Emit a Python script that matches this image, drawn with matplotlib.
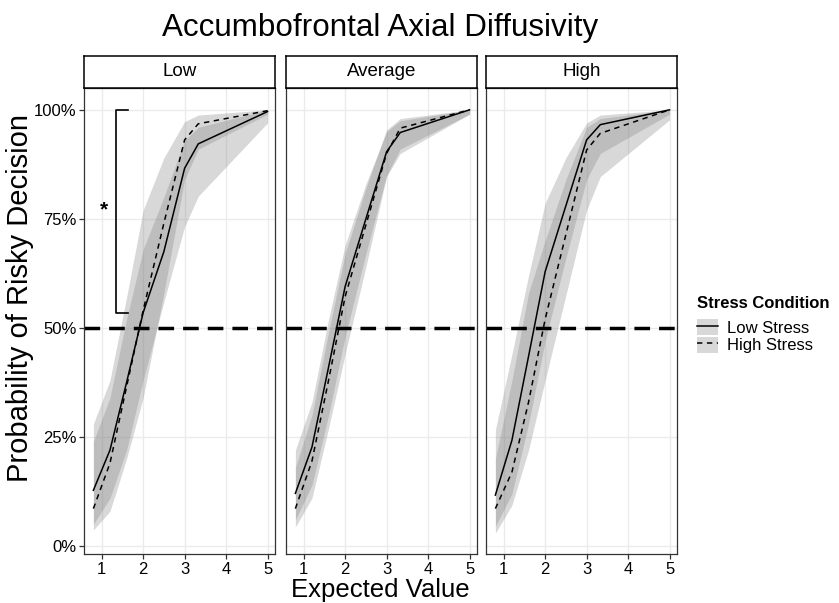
import matplotlib
matplotlib.use("Agg")
import matplotlib.pyplot as plt
from matplotlib.patches import Patch
from matplotlib.lines import Line2D

plt.rcParams['font.family'] = ['Liberation Sans', 'DejaVu Sans']

# expected value grid used for the predicted curves
ev = [0.8, 1.2, 1.6, 2.0, 2.5, 3.0, 3.33, 5.0]
panels = ['Low', 'Average', 'High']

# predicted probability (%) per panel, low stress / high stress, with ribbon bounds
low_ls = [12.8, 22, 37.5, 53.5, 67.5, 86.6, 92.2, 99.6]
low_ls_lo = [5, 11, 22, 38, 56, 73.2, 80.2, 97]
low_ls_hi = [24, 34, 52, 68, 80, 93, 96, 100]
low_hs = [8.6, 19, 36.5, 54, 74, 93.1, 96.8, 99.8]
low_hs_lo = [3.7, 8, 20, 34, 58, 84, 91, 99]
low_hs_hi = [28, 38, 57, 77, 89, 97.3, 98.8, 100]

avg_ls = [12.1, 22.7, 41, 59.5, 75, 90.4, 94.8, 100]
avg_ls_lo = [6, 14, 30, 48, 67, 85, 91, 99]
avg_ls_hi = [22, 33, 52, 69, 83, 95, 97.5, 100]
avg_hs = [8.6, 19.5, 38, 57.2, 73.6, 90, 95.8, 100]
avg_hs_lo = [4.4, 11, 27, 44, 64, 84.7, 90, 99]
avg_hs_hi = [18, 30, 49, 67, 82, 95.4, 98, 100]

high_ls = [11.7, 24.3, 43.5, 62.9, 78, 93.1, 96.6, 100]
high_ls_lo = [4.5, 12, 28, 47, 66, 84, 90, 99]
high_ls_hi = [26.6, 44, 62, 78.6, 89, 97, 98.8, 100]
high_hs = [8.6, 17, 33, 52, 71.4, 90.8, 94.6, 100]
high_hs_lo = [3, 9.4, 22, 38, 57.5, 77, 84.7, 97.7]
high_hs_hi = [20, 38, 58, 70, 84, 96, 98, 100]

ls_data = [(low_ls, low_ls_lo, low_ls_hi), (avg_ls, avg_ls_lo, avg_ls_hi), (high_ls, high_ls_lo, high_ls_hi)]
hs_data = [(low_hs, low_hs_lo, low_hs_hi), (avg_hs, avg_hs_lo, avg_hs_hi), (high_hs, high_hs_lo, high_hs_hi)]

# significance bracket in the Low panel
bracket_x = [1.63, 1.34, 1.34, 1.63]
bracket_y = [100, 100, 53.4, 53.4]
star_x, star_y = 1.06, 77

W, H = 839, 603
fig = plt.figure(figsize=(W / 100, H / 100), dpi=100)
fig.patch.set_facecolor('white')

lefts = [84, 286, 486]
pw = 191
top, bottom = 88, 554
strip_top = 56

dark = '#333333'
for i, name in enumerate(panels):
    ax = fig.add_axes([lefts[i] / W, 1 - bottom / H, pw / W, (bottom - top) / H])
    ax.set_facecolor('white')
    ax.set_xlim(0.574, 5.18)
    ax.set_ylim(-1.8, 105)
    ax.set_xticks([1, 2, 3, 4, 5])
    ax.set_yticks([0, 25, 50, 75, 100])
    ax.grid(True, color='#ebebeb', lw=1.0)
    ax.set_axisbelow(True)
    for s in ax.spines.values():
        s.set_color(dark)
        s.set_linewidth(0.9)
    ax.tick_params(axis='x', length=3.5, width=0.9, color=dark, labelsize=12, labelcolor='black', pad=2)
    if i == 0:
        ax.set_yticklabels(['0%', '25%', '50%', '75%', '100%'])
        ax.tick_params(axis='y', length=3.5, width=0.9, color=dark, labelsize=12, labelcolor='black', pad=2)
    else:
        ax.tick_params(axis='y', length=0, labelleft=False)

    m, lo, hi = ls_data[i]
    ax.fill_between(ev, lo, hi, color='grey', alpha=0.3, lw=0)
    m2, lo2, hi2 = hs_data[i]
    ax.fill_between(ev, lo2, hi2, color='grey', alpha=0.3, lw=0)
    ax.plot(ev, m, color='black', lw=1.1)
    ax.plot(ev, m2, color='black', lw=1.1, linestyle=(0, (3.5, 3)))
    ax.axhline(50, color='black', lw=2.5, linestyle=(0, (4.5, 2.6)))

    if i == 0:
        ax.plot(bracket_x, bracket_y, color='black', lw=1.2)
        ax.text(star_x, star_y, '*', fontsize=15, fontweight='bold', ha='center', va='center')

    # facet strip
    sax = fig.add_axes([lefts[i] / W, 1 - top / H, pw / W, (top - strip_top) / H])
    sax.set_xticks([])
    sax.set_yticks([])
    sax.set_facecolor('white')
    for s in sax.spines.values():
        s.set_color('black')
        s.set_linewidth(1.1)
    sax.text(0.5, 0.5, name, fontsize=13.5, ha='center', va='center', transform=sax.transAxes)

fig.text(380 / W, 1 - 28 / H, 'Accumbofrontal Axial Diffusivity', fontsize=22.6, ha='center', va='center')
fig.text(380 / W, 1 - 590 / H, 'Expected Value', fontsize=18.5, ha='center', va='center')
fig.text(20 / W, 1 - 298 / H, 'Probability of Risky Decision', fontsize=21, ha='center', va='center', rotation=90)

handles = [
    (Patch(facecolor='grey', alpha=0.3, lw=0), Line2D([], [], color='black', lw=1.1)),
    (Patch(facecolor='grey', alpha=0.3, lw=0), Line2D([], [], color='black', lw=1.1, linestyle=(0, (3.5, 3)))),
]
leg = fig.legend(handles, ['Low Stress', 'High Stress'], title='Stress Condition',
                 loc='upper left', bbox_to_anchor=(685 / W, 1 - 284 / H), frameon=False,
                 fontsize=12, title_fontproperties={'weight': 'bold', 'size': 12},
                 handlelength=1.3, handleheight=1.1, handletextpad=0.5, labelspacing=0.05,
                 borderpad=0.2)
leg._legend_box.align = 'left'
leg._legend_box.sep = 6

fig.savefig('out.png', dpi=100, facecolor='white')
